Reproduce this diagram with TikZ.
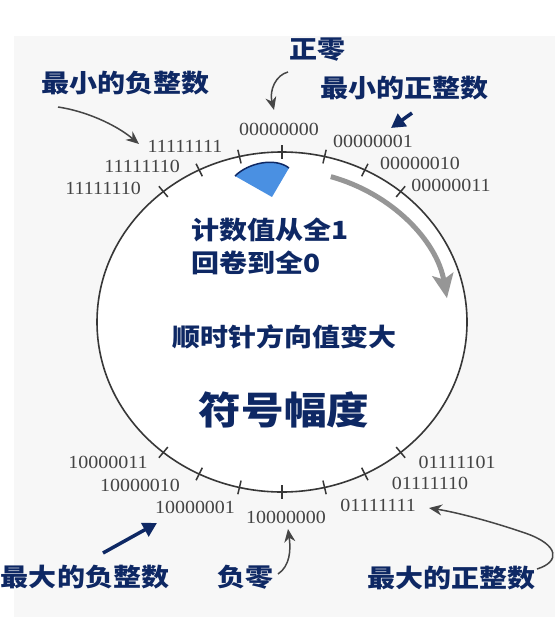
\documentclass[tikz,border=0pt]{standalone}
\usepackage{fontspec}
\newfontfamily\cjk{Noto Sans CJK SC}[FakeStretch=1.12]
\newfontfamily\dig{Liberation Serif}[FakeStretch=1.08]
\usetikzlibrary{arrows.meta}
\definecolor{navy}{RGB}{14,40,100}
\definecolor{wedgeblue}{RGB}{74,144,226}
\definecolor{ringgray}{RGB}{55,55,55}
\definecolor{numgray}{RGB}{68,68,68}
\definecolor{arrgray}{RGB}{70,70,70}
\definecolor{biggray}{RGB}{150,150,150}
\definecolor{paper}{RGB}{247,247,247}
\tikzset{
  num/.style={font=\dig\fontsize{18.5}{21}\selectfont, text=numgray, inner sep=0pt},
  lab/.style={font=\cjk\bfseries\fontsize{25}{30}\selectfont, text=navy, inner sep=0pt},
  biglab/.style={font=\cjk\bfseries\fontsize{38}{44}\selectfont, text=navy, inner sep=0pt},
  ring/.style={draw=ringgray, line width=1.6pt},
  tickmark/.style={draw=ringgray, line width=1.5pt},
  garr/.style={draw=arrgray, line width=1.5pt, -{Stealth[length=13pt,width=11pt]}},
  narr/.style={draw=navy, line width=3.5pt, -{Triangle[length=14pt,width=15pt]}},
  bigarr/.style={draw=biggray, line width=5pt, -{Stealth[length=24pt,width=21pt,inset=5pt]}},
}
\begin{document}
\begin{tikzpicture}[x=1pt,y=-1pt]
\useasboundingbox (0,0) rectangle (555,617);
\fill[paper] (14,36) rectangle (555,617);
\coordinate (c) at (282,322);
\fill[white] (c) ellipse[x radius=185, y radius=170];

% ring and ticks
\draw[ring] (c) ellipse[x radius=185, y radius=170];
\foreach \a in {-129.9,-116.6,-103.3,-90,-76.7,-63.4,-50.1,50.1,63.4,76.7,90,103.3,116.6,129.9}
  \draw[tickmark, shift={(c)}] (\a:178 and 163) -- (\a:192 and 177);

% wrap-around wedge
\coordinate (wA) at (272,197);
\coordinate (wL) at (235,176);
\coordinate (wR) at (289,168);
\fill[wedgeblue] (wA) -- (wL) .. controls (248,163) and (275,157) .. (wR) -- cycle;
\draw[navy, line width=1.5pt] (wL) .. controls (248,163) and (275,157) .. (wR);

% clockwise arrow
\draw[bigarr, shift={(c)}] (-73:167 and 152) arc[start angle=-73, end angle=-9, x radius=167, y radius=152];

% binary labels
\node[num] (z0) at (279,129) {00000000};
\node[num] (p1) at (373,141) {00000001};
\node[num] (p2) at (420,163) {00000010};
\node[num] (p3) at (451,185) {00000011};
\node[num] (m1) at (185,146) {11111111};
\node[num] (m2) at (142,166) {11111110};
\node[num] (m3) at (103,188) {11111110};
\node[num] (n3) at (108,462) {10000011};
\node[num] (n2) at (140,485) {10000010};
\node[num] (n1) at (195,507) {10000001};
\node[num] (n0) at (286,517) {10000000};
\node[num] (q1) at (378,505) {01111111};
\node[num] (q2) at (430,483) {01111110};
\node[num] (q3) at (457,462) {01111101};

% annotations
\node[lab] (poszero) at (317,50) {正零};
\node[lab] (minneg) at (125,83) {最小的负整数};
\node[lab] (minpos) at (404,88) {最小的正整数};
\node[lab, anchor=west] (wrap1) at (191,230) {计数值从全1};
\node[lab, anchor=west] (wrap2) at (191,263) {回卷到全0};
\node[lab] (cw) at (284,337) {顺时针方向值变大};
\node[biglab] (sm) at (284,410) {符号幅度};
\node[lab] (maxneg) at (85,577) {最大的负整数};
\node[lab] (negzero) at (245,577) {负零};
\node[lab] (maxpos) at (451,578) {最大的正整数};

% connectors
\coordinate (a1s) at (58,107);
\coordinate (a1e) at (139,144);
\draw[garr] (a1s) .. controls (85,111) and (115,124) .. (a1e);

\coordinate (a2s) at (288,72);
\coordinate (a2e) at (274,110);
\draw[garr] (a2s) .. controls (276,75) and (269,90) .. (a2e);

\coordinate (a3s) at (412,113);
\coordinate (a3e) at (391,128);
\draw[narr] (a3s) -- (a3e);

\coordinate (a4s) at (103,553);
\coordinate (a4e) at (157,523);
\draw[narr] (a4s) -- (a4e);

\coordinate (a5s) at (278,574);
\coordinate (a5e) at (288,529);
\draw[garr] (a5s) .. controls (290,566) and (291,550) .. (a5e);

\coordinate (a6s) at (537,569);
\coordinate (a6m) at (525,533);
\coordinate (a6e) at (429,508);
\draw[garr] (a6s) .. controls (560,562) and (560,545) .. (a6m) .. controls (490,521) and (455,512) .. (a6e);
\end{tikzpicture}
\end{document}
